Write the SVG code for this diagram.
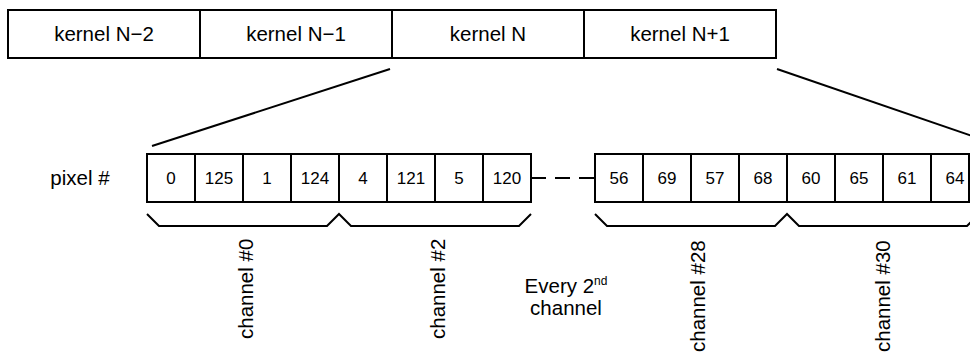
<svg xmlns="http://www.w3.org/2000/svg" width="970" height="353" viewBox="0 0 970 353">
<style>
.box{fill:#fff;stroke:#000;stroke-width:2}
.lbl{font-family:"Liberation Sans",Arial,Helvetica,sans-serif;font-size:20.5px;fill:#000}
.mid{text-anchor:middle}
.num{font-family:"Liberation Sans",Arial,Helvetica,sans-serif;font-size:17px;fill:#000;text-anchor:middle}
.ln{fill:none;stroke:#000;stroke-width:2}
</style>
<rect width="970" height="353" fill="#fff"/>
<g id="connectors">
<line class="ln" x1="390" y1="69" x2="152" y2="146"/>
<line class="ln" x1="777" y1="69" x2="975" y2="137"/>
<line class="ln" x1="531" y1="178" x2="595" y2="178" stroke-dasharray="15 9"/>
<polyline class="ln" points="147,214 159,226 327,226 339,214 351,226 519,226 531,214"/>
<polyline class="ln" points="595,214 607,226 775,226 787,214 799,226 967,226 979,214"/>
</g>
<g id="kernel-n-2"><rect class="box" x="8" y="10" width="192" height="48"/><text class="lbl mid" x="104" y="41">kernel N−2</text></g>
<g id="kernel-n-1"><rect class="box" x="200" y="10" width="192" height="48"/><text class="lbl mid" x="296" y="41">kernel N−1</text></g>
<g id="kernel-n"><rect class="box" x="392" y="10" width="192" height="48"/><text class="lbl mid" x="488" y="41">kernel N</text></g>
<g id="kernel-n+1"><rect class="box" x="584" y="10" width="192" height="48"/><text class="lbl mid" x="680" y="41">kernel N+1</text></g>
<g id="pixel-label"><text class="lbl mid" x="80" y="185">pixel #</text></g>
<g id="px-0"><rect class="box" x="147" y="154" width="48" height="48"/><text class="num" x="171" y="184">0</text></g>
<g id="px-125"><rect class="box" x="195" y="154" width="48" height="48"/><text class="num" x="219" y="184">125</text></g>
<g id="px-1"><rect class="box" x="243" y="154" width="48" height="48"/><text class="num" x="267" y="184">1</text></g>
<g id="px-124"><rect class="box" x="291" y="154" width="48" height="48"/><text class="num" x="315" y="184">124</text></g>
<g id="px-4"><rect class="box" x="339" y="154" width="48" height="48"/><text class="num" x="363" y="184">4</text></g>
<g id="px-121"><rect class="box" x="387" y="154" width="48" height="48"/><text class="num" x="411" y="184">121</text></g>
<g id="px-5"><rect class="box" x="435" y="154" width="48" height="48"/><text class="num" x="459" y="184">5</text></g>
<g id="px-120"><rect class="box" x="483" y="154" width="48" height="48"/><text class="num" x="507" y="184">120</text></g>
<g id="px-56"><rect class="box" x="595" y="154" width="48" height="48"/><text class="num" x="619" y="184">56</text></g>
<g id="px-69"><rect class="box" x="643" y="154" width="48" height="48"/><text class="num" x="667" y="184">69</text></g>
<g id="px-57"><rect class="box" x="691" y="154" width="48" height="48"/><text class="num" x="715" y="184">57</text></g>
<g id="px-68"><rect class="box" x="739" y="154" width="48" height="48"/><text class="num" x="763" y="184">68</text></g>
<g id="px-60"><rect class="box" x="787" y="154" width="48" height="48"/><text class="num" x="811" y="184">60</text></g>
<g id="px-65"><rect class="box" x="835" y="154" width="48" height="48"/><text class="num" x="859" y="184">65</text></g>
<g id="px-61"><rect class="box" x="883" y="154" width="48" height="48"/><text class="num" x="907" y="184">61</text></g>
<g id="px-64"><rect class="box" x="931" y="154" width="38" height="48"/><text class="num" x="955" y="184">64</text></g>
<g id="ch-0"><text class="lbl" transform="translate(253,339) rotate(-90)">channel #0</text></g>
<g id="ch-2"><text class="lbl" transform="translate(445,339) rotate(-90)">channel #2</text></g>
<g id="ch-28"><text class="lbl" transform="translate(705,352) rotate(-90)">channel #28</text></g>
<g id="ch-30"><text class="lbl" transform="translate(890,352) rotate(-90)">channel #30</text></g>
<g id="every-2nd"><text class="lbl mid" x="566" y="293">Every 2<tspan font-size="12" dy="-8">nd</tspan></text><text class="lbl mid" x="566" y="315">channel</text></g>
</svg>
